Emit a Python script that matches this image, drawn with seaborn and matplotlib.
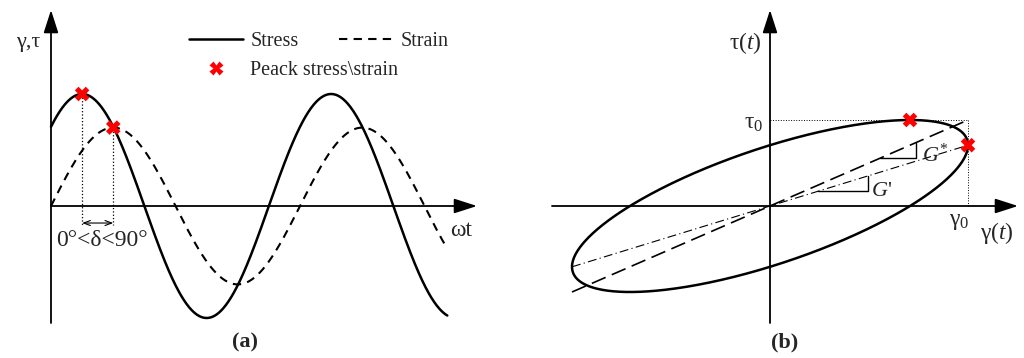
import numpy as np
import pandas as pd
import matplotlib
matplotlib.use("Agg")
import matplotlib.pyplot as plt
from matplotlib.lines import Line2D
import seaborn as sns

# ---- oscillation parameters (panel a) ----
stress_amp = 1.0          # normalised stress amplitude
strain_amp = 0.7          # normalised strain amplitude
phase_lag_deg = 45.0      # stress leads strain by delta
theta_end = 10.0          # extent of the time axis, in radians of wt

# ---- hysteresis loop parameters (panel b) ----
gamma0 = 1.0              # strain amplitude
tau0 = 1.0                # stress amplitude
loop_lag_deg = 45.0       # phase lag of the loop

series_names = ["Stress", "Strain"]
peak_label = "Peack stress\\strain"

sns.set_theme(style="white")
plt.rcParams["font.family"] = ["Liberation Serif", "DejaVu Serif"]
plt.rcParams["mathtext.fontset"] = "custom"
plt.rcParams["mathtext.rm"] = "Liberation Serif"
plt.rcParams["mathtext.it"] = "Liberation Serif:italic"
plt.rcParams["mathtext.bf"] = "Liberation Serif:bold"

W, H = 1024, 358
fig = plt.figure(figsize=(W / 100, H / 100), dpi=100)
fig.patch.set_facecolor("white")


def ftext(px, py, s, **kw):
    kw.setdefault("ha", "center")
    kw.setdefault("va", "center")
    fig.text(px / W, 1 - py / H, s, **kw)


def axis_arrow(ax, tail, tip):
    ax.annotate("", xy=tip, xytext=tail,
                arrowprops=dict(arrowstyle="-|>,head_length=1.4,head_width=0.45",
                                lw=1.3, color="black", shrinkA=0, shrinkB=0,
                                mutation_scale=10))


# ================= panel (a) =================
px_per_rad = 249 / (2 * np.pi)
px_per_unit_a = 112.0
x0a, y0a = 51, 206
axa = fig.add_axes([0, 0, 500 / W, 1])
axa.set_xlim(-x0a / px_per_rad, (500 - x0a) / px_per_rad)
axa.set_ylim((y0a - H) / px_per_unit_a, y0a / px_per_unit_a)
axa.axis("off")

lag = np.deg2rad(phase_lag_deg)
theta = np.linspace(0, theta_end, 600)
df_a = pd.DataFrame({
    "theta": np.concatenate([theta, theta]),
    "value": np.concatenate([stress_amp * np.sin(theta + lag),
                             strain_amp * np.sin(theta)]),
    "series": np.repeat(series_names, len(theta)),
})
sns.lineplot(data=df_a[df_a.series == "Stress"], x="theta", y="value",
             color="black", lw=1.8, ax=axa, legend=False, sort=False)
sns.lineplot(data=df_a[df_a.series == "Strain"], x="theta", y="value",
             color="black", lw=1.5, linestyle=(0, (4, 3)), ax=axa,
             legend=False, sort=False)

# peaks: stress maximum and strain maximum
peak_theta = np.array([np.pi / 2 - lag, np.pi / 2])
peak_val = np.array([stress_amp, strain_amp])
sns.scatterplot(x=peak_theta, y=peak_val, marker="X", s=110, color="red",
                edgecolor="none", ax=axa, legend=False, zorder=5)

# axes arrows
axis_arrow(axa, (0, (y0a - 323) / px_per_unit_a), (0, (y0a - 10) / px_per_unit_a))
axis_arrow(axa, (0, 0), ((477 - x0a) / px_per_rad, 0))

# phase-lag dimension
dim_y = -0.152
for t, v in zip(peak_theta, peak_val):
    axa.plot([t, t], [v, dim_y - 0.02], color="black", lw=0.9, ls=":")
axa.annotate("", xy=(peak_theta[1], dim_y), xytext=(peak_theta[0], dim_y),
             arrowprops=dict(arrowstyle="<->,head_length=0.4,head_width=0.15",
                             lw=0.8, color="black", shrinkA=0, shrinkB=0))

# legend
h_stress = Line2D([], [], color="black", lw=1.8)
h_strain = Line2D([], [], color="black", lw=1.5, linestyle=(0, (4, 3)))
h_peak = Line2D([], [], color="red", marker="X", markersize=10, lw=0,
                markeredgecolor="none")
leg1 = axa.legend([h_stress, h_strain], series_names, ncol=2, frameon=False,
                  handlelength=2.7, handletextpad=0.35, columnspacing=2.0,
                  borderpad=0, borderaxespad=0, fontsize=14.5,
                  loc="upper left", bbox_to_anchor=(189 / W, 1 - 32 / H),
                  bbox_transform=fig.transFigure)
axa.add_artist(leg1)
axa.legend([h_peak], [peak_label], frameon=False, handlelength=2.7,
           handletextpad=0.35, borderpad=0, borderaxespad=0, fontsize=14.5,
           loc="upper left", bbox_to_anchor=(189 / W, 1 - 61 / H),
           bbox_transform=fig.transFigure)

ftext(28, 43, "γ,τ", fontsize=16)
ftext(461, 230, "ωt", fontsize=17)
ftext(102, 241, "0°<δ<90°", fontsize=17)
ftext(245, 342, "(a)", fontsize=16, fontweight="bold")

# ================= panel (b) =================
px_per_gamma = 198.0
px_per_tau = 86.0
x0b, y0b = 770, 206
axb = fig.add_axes([520 / W, 0, (W - 520) / W, 1])
axb.set_xlim((520 - x0b) / px_per_gamma, (W - x0b) / px_per_gamma)
axb.set_ylim((y0b - H) / px_per_tau, y0b / px_per_tau)
axb.axis("off")

dl = np.deg2rad(loop_lag_deg)
phi = np.linspace(0, 2 * np.pi, 500)
df_b = pd.DataFrame({"gamma": gamma0 * np.sin(phi),
                     "tau": tau0 * np.sin(phi + dl)})
sns.lineplot(data=df_b, x="gamma", y="tau", sort=False, color="black",
             lw=1.8, ax=axb, legend=False, estimator=None)

# complex modulus line through (gamma0, tau0)
sns.lineplot(x=[-gamma0, gamma0], y=[-tau0, tau0], color="black", lw=1.2,
             linestyle=(0, (9, 4)), ax=axb, legend=False, sort=False)
# storage modulus line through (gamma0, tau0 cos delta)
sns.lineplot(x=[-gamma0, gamma0], y=[-tau0 * np.cos(dl), tau0 * np.cos(dl)],
             color="black", lw=0.8, linestyle=(0, (8, 3, 1, 3)), ax=axb,
             legend=False, sort=False)

# reference dotted lines
axb.plot([0, gamma0], [tau0, tau0], color="black", lw=0.7, ls=":")
axb.plot([gamma0, gamma0], [tau0, 0], color="black", lw=0.7, ls=":")

# slope triangles
def slope_mark(ax, g1, g2, k):
    ax.plot([g1, g2, g2], [k * g1, k * g1, k * g2], color="black", lw=1.0)

slope_mark(axb, 0.556, 0.737, tau0 / gamma0)
slope_mark(axb, 0.242, 0.495, tau0 * np.cos(dl) / gamma0)

# peak markers: max stress and max strain
mk_g = np.array([gamma0 * np.sin(np.pi / 2 - dl), gamma0])
mk_t = np.array([tau0, tau0 * np.cos(dl)])
sns.scatterplot(x=mk_g, y=mk_t, marker="X", s=110, color="red",
                edgecolor="none", ax=axb, legend=False, zorder=5)

axis_arrow(axb, (0, (y0b - 323) / px_per_tau), (0, (y0b - 10) / px_per_tau))
axis_arrow(axb, ((552 - x0b) / px_per_gamma, 0), ((1018 - x0b) / px_per_gamma, 0))

ftext(745, 43, r"$\mathrm{\tau(}t\mathrm{)}$", fontsize=17)
ftext(754, 124, r"$\mathrm{\tau}_0$", fontsize=17)
ftext(935, 155, r"$G^{*}$", fontsize=16)
ftext(882, 192, r"$G$'", fontsize=16)
ftext(959, 221, r"$\mathrm{\gamma}_0$", fontsize=17)
ftext(997, 233, r"$\mathrm{\gamma(}t\mathrm{)}$", fontsize=17)
ftext(785, 342, "(b)", fontsize=16, fontweight="bold")

fig.savefig("out.png", dpi=100, facecolor="white")
